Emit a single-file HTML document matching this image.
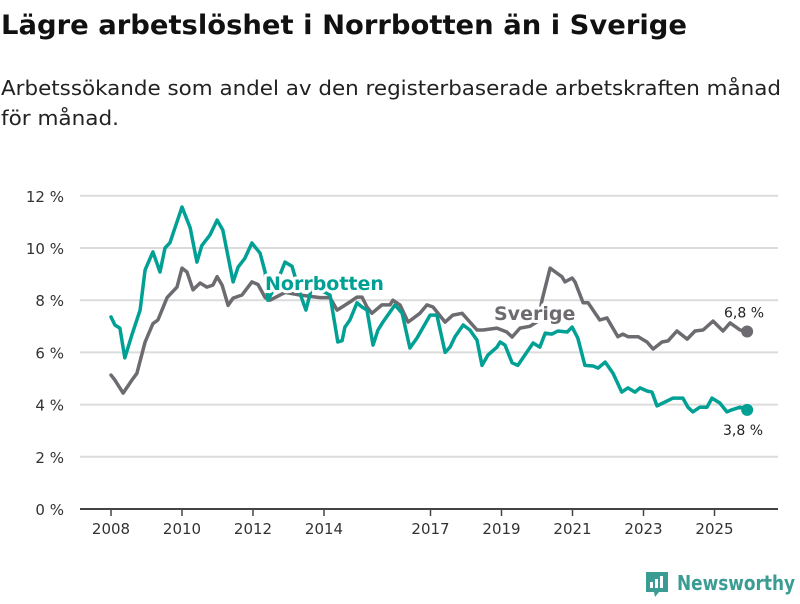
<!DOCTYPE html>
<html><head><meta charset="utf-8">
<style>
html,body{margin:0;padding:0;background:#fff;}
body{width:800px;height:600px;overflow:hidden;font-family:"DejaVu Sans","Liberation Sans",sans-serif;}
svg text{font-family:"DejaVu Sans","Liberation Sans",sans-serif;}
</style></head>
<body>
<svg id="chart" width="800" height="600" viewBox="0 0 800 600" xmlns="http://www.w3.org/2000/svg">
<text x="1" y="34" font-size="27" font-weight="bold" fill="#111" textLength="686" lengthAdjust="spacingAndGlyphs">Lägre arbetslöshet i Norrbotten än i Sverige</text>
<text x="1" y="95" font-size="20" fill="#222" textLength="780" lengthAdjust="spacingAndGlyphs">Arbetssökande som andel av den registerbaserade arbetskraften månad</text>
<text x="1" y="125" font-size="20" fill="#222" textLength="118" lengthAdjust="spacingAndGlyphs">för månad.</text>
<g id="grid"></g>
<g id="yaxis"></g>
<g id="xaxis"></g>
<g id="series"></g>
<g id="labels"></g>
<g>
<path d="M646 572 h22 v20 h-9 l-4 5 l-1 -5 h-8 z" fill="#3a9c93"/>
<rect x="650" y="582" width="3" height="6" fill="#fff"/>
<rect x="655" y="579" width="3" height="9" fill="#fff"/>
<rect x="660" y="576" width="3" height="12" fill="#fff"/>
<text x="677" y="590" font-size="20" font-weight="bold" fill="#3a9c93" textLength="118" lengthAdjust="spacingAndGlyphs">Newsworthy</text>
</g>
</svg>
<script>
const yTicks = [0, 2, 4, 6, 8, 10, 12];
const yTickLabels = ["0 %", "2 %", "4 %", "6 %", "8 %", "10 %", "12 %"];
const xTicks = [2008, 2010, 2012, 2014, 2017, 2019, 2021, 2023, 2025];
const xTickLabels = ["2008", "2010", "2012", "2014", "2017", "2019", "2021", "2023", "2025"];

const norrTimes = [2008.0,2008.11,2008.25,2008.39,2008.59,2008.82,2008.96,2009.18,2009.38,2009.52,2009.66,2010.0,2010.23,2010.42,2010.56,2010.79,2010.99,2011.15,2011.44,2011.58,2011.77,2011.97,2012.2,2012.34,2012.42,2012.65,2012.9,2013.1,2013.32,2013.49,2013.66,2013.89,2014.17,2014.39,2014.51,2014.59,2014.73,2014.93,2015.07,2015.21,2015.38,2015.52,2015.66,2016.0,2016.2,2016.42,2016.62,2016.99,2017.18,2017.41,2017.55,2017.69,2017.92,2018.11,2018.31,2018.45,2018.62,2018.87,2018.96,2019.1,2019.3,2019.46,2019.66,2019.89,2020.08,2020.23,2020.42,2020.59,2020.85,2020.99,2021.15,2021.35,2021.58,2021.72,2021.92,2022.14,2022.39,2022.56,2022.76,2022.9,2023.1,2023.24,2023.38,2023.55,2023.83,2024.11,2024.25,2024.39,2024.59,2024.79,2024.93,2025.15,2025.35,2025.49,2025.72,2025.92];
const norrValues = [7.36,7.05,6.93,5.79,6.67,7.62,9.16,9.85,9.08,10.0,10.2,11.57,10.77,9.46,10.1,10.5,11.07,10.69,8.7,9.27,9.6,10.19,9.8,9.08,8.0,8.6,9.46,9.3,8.27,7.62,8.5,8.4,8.2,6.4,6.45,6.97,7.24,7.9,7.74,7.62,6.28,6.86,7.16,7.82,7.5,6.17,6.55,7.43,7.43,6.0,6.2,6.6,7.05,6.86,6.47,5.5,5.9,6.2,6.4,6.28,5.6,5.5,5.9,6.36,6.2,6.74,6.7,6.82,6.78,6.97,6.55,5.5,5.48,5.4,5.63,5.2,4.48,4.64,4.48,4.64,4.52,4.48,3.95,4.06,4.25,4.25,3.9,3.72,3.9,3.9,4.25,4.06,3.72,3.8,3.9,3.8];

const sveTimes = [2008.0,2008.11,2008.34,2008.59,2008.73,2008.96,2009.18,2009.32,2009.58,2009.86,2010.0,2010.14,2010.31,2010.51,2010.7,2010.87,2010.99,2011.13,2011.3,2011.44,2011.69,2011.97,2012.14,2012.34,2012.48,2012.9,2013.32,2013.89,2014.17,2014.37,2014.51,2014.73,2014.93,2015.07,2015.21,2015.35,2015.63,2015.86,2015.94,2016.14,2016.37,2016.7,2016.9,2017.07,2017.41,2017.63,2017.89,2018.06,2018.31,2018.48,2018.87,2019.15,2019.3,2019.52,2019.8,2020.03,2020.14,2020.37,2020.56,2020.7,2020.79,2020.99,2021.07,2021.3,2021.44,2021.77,2021.97,2022.28,2022.42,2022.56,2022.85,2023.1,2023.27,2023.52,2023.69,2023.94,2024.23,2024.45,2024.68,2024.96,2025.24,2025.44,2025.72,2025.92];
const sveValues = [5.13,4.94,4.44,4.94,5.2,6.4,7.1,7.24,8.1,8.5,9.23,9.08,8.4,8.66,8.5,8.58,8.9,8.58,7.8,8.08,8.2,8.7,8.6,8.1,8.0,8.3,8.2,8.1,8.1,7.62,7.74,7.93,8.12,8.12,7.74,7.5,7.82,7.82,8.0,7.82,7.16,7.5,7.82,7.74,7.16,7.43,7.5,7.24,6.86,6.86,6.93,6.78,6.59,6.93,7.0,7.2,8.0,9.23,9.04,8.9,8.7,8.85,8.7,7.9,7.9,7.24,7.32,6.6,6.7,6.6,6.6,6.4,6.13,6.4,6.44,6.82,6.51,6.82,6.86,7.2,6.82,7.13,6.86,6.8];

const NS = "http://www.w3.org/2000/svg";
const X0 = 111, XPY = 35.5, Y0 = 509, YPP = 26.1;
function xs(t){ return X0 + (t - 2008) * XPY; }
function ys(v){ return Y0 - v * YPP; }
function mk(tag, attrs, parent){
  const e = document.createElementNS(NS, tag);
  for (const k in attrs) e.setAttribute(k, attrs[k]);
  parent.appendChild(e);
  return e;
}
const grid = document.getElementById('grid');
const yaxis = document.getElementById('yaxis');
const xaxis = document.getElementById('xaxis');
const series = document.getElementById('series');
const labels = document.getElementById('labels');

yTicks.forEach((v, i) => {
  if (v !== 0) {
    const g = mk('line', {x1: 80, x2: 778, y1: ys(v), y2: ys(v), stroke: '#dcdcdc', 'stroke-width': 2}, grid);
    
    
  }
  const t = mk('text', {x: 64, y: ys(v) + 6, 'font-size': 15, fill: '#333', 'text-anchor': 'end'}, yaxis);
  t.textContent = yTickLabels[i];
  
  
});
const axl = mk('line', {x1: 80, x2: 778, y1: Y0, y2: Y0, stroke: '#444', 'stroke-width': 2}, xaxis);


xTicks.forEach((yr, i) => {
  const tk = mk('line', {x1: xs(yr), x2: xs(yr), y1: Y0, y2: Y0 + 7, stroke: '#444', 'stroke-width': 1.5}, xaxis);
  
  
  const t = mk('text', {x: xs(yr), y: 534, 'font-size': 15, fill: '#333', 'text-anchor': 'middle'}, xaxis);
  t.textContent = xTickLabels[i];
  
  
});

function drawLine(times, vals, color, name){
  const d = times.map((t, i) => (i ? 'L' : 'M') + xs(t).toFixed(1) + ' ' + ys(vals[i]).toFixed(1)).join(' ');
  const p = mk('path', {d: d, fill: 'none', stroke: color, 'stroke-width': 3.5, 'stroke-linejoin': 'round', 'stroke-linecap': 'round'}, series);
  
  
  const n = times.length - 1;
  const c = mk('circle', {cx: xs(times[n]), cy: ys(vals[n]), r: 6, fill: color}, series);
  
  
}
drawLine(sveTimes, sveValues, '#6d6b70', 'sverige');
drawLine(norrTimes, norrValues, '#00a095', 'norrbotten');

function label(txt, x, y, color, size, weight, name, halo){
  if (halo) {
    const h = mk('text', {x: x, y: y, 'font-size': size, 'font-weight': weight, fill: '#fff', stroke: '#fff', 'stroke-width': 6, 'stroke-linejoin': 'round'}, labels);
    h.textContent = txt;
    
    
  }
  const t = mk('text', {x: x, y: y, 'font-size': size, 'font-weight': weight, fill: color}, labels);
  t.textContent = txt;
  
  
}
label('Norrbotten', 265, 290, '#00a095', 19, 'bold', 'norrbotten-label', true);
label('Sverige', 494, 320, '#6d6b70', 19, 'bold', 'sverige-label', true);
const sl = sveValues[sveValues.length - 1], nl = norrValues[norrValues.length - 1];
label(sl.toFixed(1).replace('.', ',') + ' %', 724, ys(sl) - 14, '#222', 14, 'normal', 'sverige-end-value', false);
label(nl.toFixed(1).replace('.', ',') + ' %', 723, ys(nl) + 25, '#222', 14, 'normal', 'norrbotten-end-value', false);
</script>
</body></html>
